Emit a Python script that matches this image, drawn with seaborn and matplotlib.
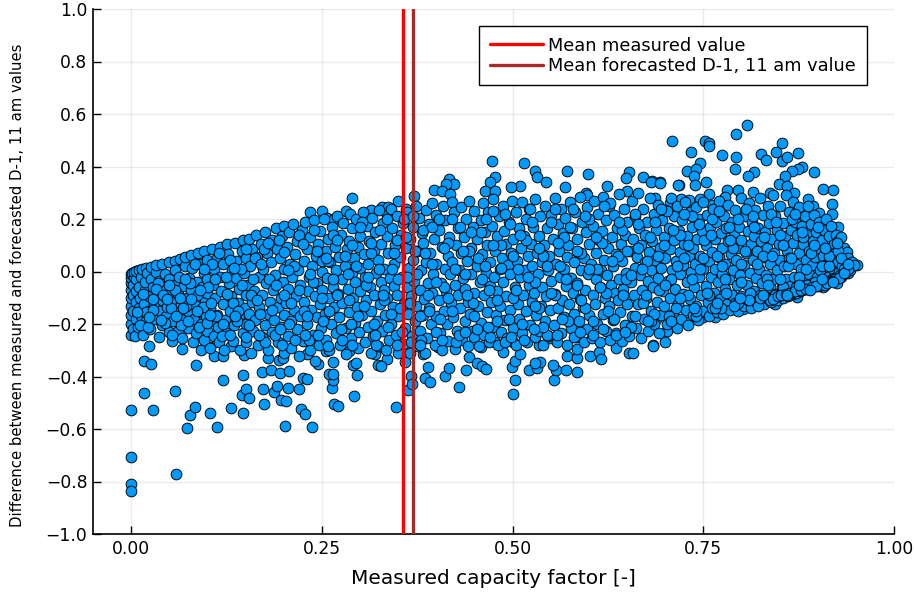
import pandas as pd
import matplotlib
matplotlib.use("Agg")
import matplotlib.pyplot as plt
import seaborn as sns

# (measured capacity factor, measured - forecasted) in slices of x
low_outliers = [(0,-.528),(.029,-.528),(.017,-.463),(.058,-.455),(0,-.706),(0,-.81),(0,-.835),(.059,-.771),(.073,-.596),(.113,-.592),
    (.077,-.546),(.084,-.516),(.104,-.539),(.131,-.52),(.147,-.539),(.121,-.413),(.147,-.394),(.145,-.47),(.15,-.448),(.155,-.482),
    (.172,-.383),(.183,-.375),(.195,-.387),(.207,-.379),(.225,-.406),(.231,-.41),(.173,-.448),(.187,-.459),(.191,-.436),(.206,-.444),
    (.22,-.448),(.197,-.49),(.203,-.493),(.174,-.505),(.202,-.589),(.237,-.592),(.223,-.524),(.228,-.543),(.263,-.444),(.265,-.413),
    (.26,-.39),(.265,-.39),(.266,-.505),(.271,-.512),(.292,-.474),(.296,-.394),(.291,-.356),(.295,-.349),(.347,-.516),(.363,-.451),
    (.367,-.398),(.368,-.429),(.385,-.406),(.389,-.364),(.324,-.356),(.32,-.314),(.335,-.333),(.265,-.345),(.245,-.352),(.241,-.341),
    (.231,-.314),(.255,-.303),(.286,-.303),(.085,-.356),(.017,-.341),(.026,-.352),(.024,-.284),(.067,-.295),(.092,-.299),(.109,-.322),
    (.121,-.322),(.148,-.318),(.18,-.33),(.194,-.337),(.199,-.33),(.131,-.284),(.104,-.288),(.392,-.421),(.412,-.398),(.417,-.368),
    (.43,-.44),(.439,-.375),(.443,-.326),(.453,-.349),(.46,-.36),(.465,-.371),(.501,-.467),(.503,-.413),(.499,-.364),(.503,-.341),
    (.51,-.314),(.488,-.307),(.554,-.413),(.557,-.375),(.57,-.375),(.585,-.383),(.553,-.356),(.522,-.375),(.532,-.368),(.536,-.345),
    (.53,-.349),(.571,-.322),(.585,-.33),(.585,-.295),(.602,-.322),(.613,-.307),(.616,-.333),(.653,-.31),(.658,-.31),(.684,-.28),
    (.7,-.268),(.636,-.291),(.535,-.28),(.549,-.253),(.501,-.268),(.477,-.268),(.459,-.288),(.402,-.288),(.383,-.314),(.359,-.345),
    (.328,-.36),(.684,-.284),(.703,-.227),(.688,-.181),(.73,-.192),(.75,-.173),(.765,-.173),(.785,-.143),(.802,-.143),(.844,-.124),
    (.873,-.097),(.907,-.059),(.925,-.044),(.94,-.006),(.951,.025),(.942,.006)]
high_outliers = [(.709,.497),(.807,.558),(.793,.524),(.752,.497),(.757,.49),(.757,.478),(.734,.455),(.775,.444),(.793,.436),(.746,.413),
    (.826,.448),(.845,.455),(.853,.49),(.832,.425),(.853,.42),(.86,.436),(.874,.45),(.879,.4),(.874,.39),(.866,.383),
    (.895,.379),(.857,.364),(.817,.379),(.808,.364),(.792,.39),(.729,.383),(.74,.39),(.738,.364),(.753,.341),(.739,.33),
    (.718,.33),(.693,.341),(.683,.345),(.907,.314),(.92,.31),(.919,.257),(.919,.219),(.927,.17),(.849,.333),(.86,.326),
    (.837,.299),(.815,.302),(.796,.31),(.781,.31),(.757,.295),(.746,.276),(.731,.272),(.721,.276),(.706,.261),(.687,.28),
    (.761,.253),(.778,.284),(.869,.299),(.887,.276),(.894,.25),(.873,.246),(.902,.223),(.473,.421),(.515,.413),(.53,.383),
    (.532,.36),(.544,.341),(.571,.383),(.599,.371),(.653,.379),(.649,.356),(.671,.36),(.682,.341),(.693,.337),(.624,.326),
    (.569,.322),(.51,.326),(.498,.322),(.477,.36),(.47,.341),(.417,.352),(.423,.333),(.413,.333),(.397,.31),(.407,.307),
    (.418,.295),(.464,.307),(.477,.307),(.371,.288),(.65,.307),(.596,.299),(.598,.291),(.717,.33),(.29,.28),(.235,.227),
    (.25,.23),(.257,.204),(.266,.2),(.282,.23),(.315,.234),(.329,.246),(.337,.246),(.335,.215),(.35,.27),(.36,.24)]

slice_00 = [(0,-.24),(0,-.2),(0,-.165),(0,-.13),(0,-.1),(0,-.07),(0,-.045),(0,-.025),(0,-.01),(.001,-.005),(.002,-.22),(.002,-.15),(.003,-.09),
    (.003,-.05),(.004,-.02),(.004,0),(.005,-.245),(.006,-.18),(.006,-.115),(.006,-.075),(.007,-.03),(.007,.002),(.009,-.21),(.01,-.14),(.01,-.06),
    (.01,.005),(.012,-.1),(.013,-.17),(.013,-.02),(.014,.01),(.016,-.24),(.017,-.125),(.018,-.07),(.018,-.04),(.019,.012),(.02,-.19),(.021,-.005),
    (.023,-.15),(.024,-.095),(.025,-.22),(.026,-.03),(.026,.018),(.028,-.06),(.03,-.125),(.031,-.18),(.032,0),(.033,.024),(.034,-.085),(.036,-.25),
    (.037,-.035),(.038,-.15),(.04,-.205),(.04,-.11),(.041,.03),(.043,-.06),(.044,-.01),(.046,-.17),(.047,-.135),(.048,-.085),(.049,.036),(.049,-.03),(.05,-.23)]
slice_05 = [(.054,-.265),(.055,-.19),(.055,-.115),(.056,-.05),(.057,.04),(.058,.005),(.06,-.155),(.061,-.225),(.062,-.085),(.063,-.02),(.064,.048),
    (.066,-.125),(.067,-.255),(.068,-.185),(.069,-.055),(.07,.02),(.071,.055),(.073,-.1),(.074,-.215),(.075,-.15),(.076,-.025),(.078,-.07),(.079,.062),
    (.08,.012),(.081,-.27),(.082,-.18),(.083,-.125),(.085,-.235),(.086,-.04),(.087,.07),(.088,-.09),(.09,.03),(.091,-.155),(.092,-.2),(.093,-.06),
    (.095,-.26),(.095,-.005),(.096,.078),(.097,-.115),(.098,-.17),(.099,.045),(.1,-.03),(.1,-.225),(.1,-.08)]
slice_10 = [(.103,-.29),(.104,-.14),(.105,-.19),(.106,.085),(.107,-.05),(.108,.01),(.109,-.245),(.11,-.1),(.112,.05),(.113,-.165),(.114,-.21),(.115,-.27),
    (.116,.095),(.117,-.02),(.118,-.075),(.12,-.125),(.121,.03),(.122,-.3),(.123,-.185),(.125,-.235),(.126,.105),(.127,.065),(.128,-.045),(.13,-.15),
    (.131,-.095),(.132,.005),(.133,-.265),(.135,-.205),(.136,.11),(.137,.04),(.138,-.025),(.14,-.12),(.141,-.065),(.142,-.17),(.143,-.3),(.145,.08),
    (.146,-.235),(.147,.12),(.148,-.005),(.149,-.14),(.15,.05),(.15,-.2),(.15,-.09),(.15,-.27)]
slice_15 = [(.153,-.05),(.154,.125),(.155,-.16),(.156,.02),(.157,-.31),(.158,-.115),(.159,.085),(.16,-.225),(.161,-.075),(.163,-.185),(.164,.14),(.165,.055),
    (.166,-.28),(.167,-.02),(.168,-.135),(.17,.105),(.171,-.25),(.172,-.09),(.173,.01),(.175,-.205),(.176,.15),(.177,-.045),(.178,.07),(.179,-.16),
    (.18,-.3),(.182,-.115),(.183,.035),(.184,.12),(.185,-.23),(.186,-.07),(.187,-.185),(.189,-.015),(.19,.165),(.191,.085),(.192,-.135),(.193,-.27),
    (.195,.05),(.196,-.1),(.197,-.21),(.198,.135),(.199,-.04),(.2,.01),(.2,-.165),(.2,.175),(.2,-.31)]
slice_20 = [(.203,-.12),(.204,.095),(.205,-.245),(.206,-.065),(.207,.15),(.208,.03),(.209,-.19),(.21,-.29),(.211,-.02),(.212,.18),(.214,-.145),(.215,.065),
    (.216,-.095),(.217,-.22),(.218,.115),(.219,.005),(.22,-.32),(.221,-.05),(.222,-.17),(.224,.16),(.225,-.265),(.226,.04),(.227,-.115),(.228,.19),
    (.23,-.2),(.231,.085),(.232,-.075),(.233,-.02),(.234,-.3),(.235,.13),(.236,-.145),(.237,.02),(.238,-.24),(.24,.195),(.241,-.095),(.242,.06),
    (.243,-.175),(.244,-.045),(.245,.105),(.246,-.28),(.247,.155),(.248,-.125),(.249,-.215),(.25,0),(.25,.04),(.25,-.07)]
slice_25 = [(.253,.2),(.254,-.16),(.255,.08),(.256,-.26),(.257,-.025),(.258,.125),(.259,-.1),(.26,-.3),(.261,.035),(.262,-.2),(.263,.17),(.264,-.06),
    (.266,-.135),(.267,.095),(.268,.005),(.269,-.235),(.27,.21),(.271,-.085),(.272,.055),(.273,-.175),(.274,-.28),(.275,.14),(.276,-.03),(.277,-.12),
    (.278,.185),(.28,.02),(.281,-.215),(.282,-.315),(.283,.085),(.284,-.065),(.285,-.155),(.286,.115),(.287,.22),(.288,-.255),(.289,-.005),(.29,.165),
    (.291,-.1),(.292,.05),(.293,-.195),(.294,-.04),(.295,.2),(.296,-.135),(.297,-.29),(.298,.095),(.299,-.23),(.3,.135),(.3,-.075),(.3,.015)]
slice_30 = [(.303,-.165),(.304,.225),(.305,.065),(.306,-.02),(.307,-.27),(.308,-.11),(.309,.175),(.31,-.21),(.311,.03),(.312,.115),(.313,-.06),(.314,-.31),
    (.315,-.15),(.316,.205),(.317,-.245),(.318,.08),(.319,-.09),(.32,.15),(.321,-.005),(.322,-.19),(.323,-.285),(.324,.045),(.325,.235),(.326,-.125),
    (.327,-.04),(.328,.105),(.329,-.225),(.33,.185),(.331,-.07),(.332,.01),(.333,-.165),(.334,-.3),(.335,.135),(.336,-.1),(.337,.07),(.338,-.26),
    (.339,-.025),(.34,.24),(.341,-.2),(.342,.165),(.343,-.135),(.344,.03),(.345,-.055),(.346,.1),(.347,-.24),(.348,.21),(.349,-.09),(.35,-.17),(.35,-.31)]
slice_35 = [(.353,.055),(.354,.14),(.355,-.02),(.356,-.275),(.357,.185),(.358,-.125),(.359,-.215),(.36,.09),(.361,-.06),(.362,.225),(.363,-.16),(.364,.015),
    (.365,-.31),(.366,.125),(.367,-.095),(.368,-.245),(.369,.17),(.37,.045),(.371,-.035),(.372,-.19),(.373,.25),(.374,-.13),(.375,.08),(.376,-.285),
    (.377,.205),(.378,-.07),(.379,-.225),(.38,.005),(.381,.145),(.382,-.165),(.383,.11),(.384,-.105),(.385,-.31),(.386,.035),(.387,.235),(.388,-.255),
    (.389,-.045),(.39,.18),(.391,-.14),(.392,.07),(.393,-.2),(.394,-.08),(.395,.26),(.396,-.01),(.397,.125),(.398,-.28),(.399,-.17),(.4,.215),(.4,.03)]
slice_40 = [(.403,-.11),(.404,.16),(.405,-.235),(.406,-.045),(.407,.095),(.408,-.3),(.409,.25),(.41,-.15),(.411,.01),(.412,.195),(.413,-.075),(.414,-.2),
    (.415,.06),(.416,-.265),(.417,.13),(.418,-.01),(.419,-.12),(.42,.265),(.421,.035),(.422,-.175),(.423,.225),(.424,-.05),(.425,-.295),(.426,.1),
    (.427,-.225),(.428,.165),(.429,-.09),(.43,.005),(.431,-.14),(.432,.245),(.433,.07),(.434,-.26),(.435,-.025),(.436,.13),(.437,-.19),(.438,-.065),
    (.439,.2),(.44,.04),(.441,-.285),(.442,-.115),(.443,.27),(.444,-.16),(.445,.09),(.446,-.01),(.447,-.225),(.448,.17),(.449,-.08),(.45,.23),(.45,-.25)]
slice_45 = [(.453,.02),(.454,.125),(.455,-.13),(.456,-.285),(.457,-.04),(.458,.195),(.459,-.195),(.46,.065),(.461,.26),(.462,-.09),(.463,-.24),(.464,.15),
    (.465,-.005),(.466,-.155),(.467,.1),(.468,.225),(.469,-.27),(.47,-.055),(.471,.035),(.472,-.115),(.473,.175),(.474,-.21),(.475,.275),(.476,-.02),
    (.477,.08),(.478,-.165),(.479,.135),(.48,-.075),(.481,-.28),(.482,.21),(.483,.01),(.484,-.13),(.485,-.23),(.486,.05),(.487,.25),(.488,-.04),
    (.489,.155),(.49,-.185),(.491,.105),(.492,-.095),(.493,-.255),(.494,.025),(.495,.19),(.496,-.145),(.497,-.01),(.498,.07),(.499,.27),(.5,-.215),(.5,.125)]
slice_50 = [(.503,-.06),(.504,.225),(.505,-.28),(.506,.04),(.507,-.125),(.508,.165),(.509,-.18),(.51,-.02),(.511,.09),(.512,.265),(.513,-.235),(.514,-.09),
    (.515,.135),(.516,.005),(.517,.2),(.518,-.15),(.519,-.27),(.52,.06),(.521,-.05),(.522,.24),(.523,-.205),(.524,.105),(.525,-.115),(.526,.02),
    (.527,.17),(.528,-.08),(.529,-.25),(.53,.275),(.531,-.165),(.532,.07),(.533,-.01),(.534,.135),(.535,-.225),(.536,.21),(.537,-.13),(.538,.035),
    (.539,-.06),(.54,-.28),(.541,.1),(.542,.25),(.543,-.19),(.544,-.095),(.545,.165),(.546,.005),(.547,-.245),(.548,.06),(.549,-.145),(.55,.215),(.55,-.035)]
slice_55 = [(.553,.125),(.554,-.205),(.555,.28),(.556,-.085),(.557,.03),(.558,-.27),(.559,.18),(.56,-.14),(.561,.08),(.562,-.02),(.563,.24),(.564,-.235),
    (.565,-.11),(.566,.145),(.567,.01),(.568,-.175),(.569,.205),(.57,-.055),(.571,.055),(.572,-.28),(.573,.1),(.574,-.125),(.575,.265),(.576,-.215),
    (.577,-.025),(.578,.165),(.579,-.08),(.58,.035),(.581,-.16),(.582,.225),(.583,-.25),(.584,.125),(.585,-.045),(.586,.075),(.587,-.19),(.588,.285),
    (.589,-.105),(.59,.005),(.591,.19),(.592,-.135),(.593,-.27),(.594,.05),(.595,-.07),(.596,.15),(.597,-.22),(.598,.245),(.599,-.01),(.6,.105),(.6,-.165)]
slice_60 = [(.603,.03),(.604,-.255),(.605,.175),(.606,-.09),(.607,.27),(.608,-.125),(.609,.07),(.61,-.03),(.611,-.2),(.612,.22),(.613,.12),(.614,-.06),
    (.615,-.27),(.616,.005),(.617,.155),(.618,-.16),(.619,.285),(.62,.045),(.621,-.1),(.622,-.225),(.623,.195),(.624,-.015),(.625,.09),(.626,-.13),
    (.627,.25),(.628,-.26),(.629,-.05),(.63,.13),(.631,-.185),(.632,.02),(.633,.215),(.634,-.08),(.635,-.235),(.636,.065),(.637,.165),(.638,-.11),
    (.639,-.03),(.64,.295),(.641,-.155),(.642,.105),(.643,-.265),(.644,.04),(.645,-.065),(.646,.24),(.647,-.205),(.648,.14),(.649,-.005),(.65,-.125),(.65,.19)]
slice_65 = [(.653,-.245),(.654,.08),(.655,-.04),(.656,.27),(.657,-.17),(.658,.125),(.659,-.09),(.66,.015),(.661,.21),(.662,-.215),(.663,.055),(.664,.3),
    (.665,-.125),(.666,.165),(.667,-.015),(.668,-.255),(.669,.1),(.67,-.07),(.671,.24),(.672,-.18),(.673,.035),(.674,.14),(.675,-.1),(.676,.19),
    (.677,-.225),(.678,-.035),(.679,.075),(.68,.28),(.681,-.15),(.682,.005),(.683,.115),(.684,-.06),(.685,.22),(.686,-.2),(.687,.045),(.688,.16),
    (.689,-.115),(.69,-.025),(.691,.255),(.692,-.235),(.693,.09),(.694,-.165),(.695,.015),(.696,.195),(.697,-.075),(.698,.13),(.699,-.13),(.7,.05),(.7,.235)]
slice_70 = [(.703,-.2),(.704,-.035),(.705,.165),(.706,.085),(.707,-.1),(.708,.28),(.709,.005),(.71,-.16),(.711,.21),(.712,.12),(.713,-.065),(.714,.04),
    (.715,-.215),(.716,.25),(.717,-.125),(.718,.155),(.719,-.01),(.72,.075),(.721,-.18),(.722,.195),(.723,-.085),(.724,.025),(.725,.105),(.726,.265),
    (.727,-.145),(.728,-.04),(.729,.135),(.73,-.205),(.731,.06),(.732,.225),(.733,-.105),(.734,0),(.735,.17),(.736,-.165),(.737,.09),(.738,-.06),
    (.739,.03),(.74,.245),(.741,-.13),(.742,.125),(.743,-.185),(.744,.2),(.745,-.02),(.746,.06),(.747,-.09),(.748,.155),(.749,-.15),(.75,.265),(.75,.01)]
slice_75 = [(.753,.1),(.754,-.055),(.755,.215),(.756,-.115),(.757,.04),(.758,-.17),(.759,.17),(.76,-.02),(.761,.075),(.762,-.14),(.763,.24),(.764,-.08),
    (.765,.125),(.766,.01),(.767,.19),(.768,-.155),(.769,-.04),(.77,.055),(.771,.27),(.772,-.105),(.773,.145),(.774,-.01),(.775,.09),(.776,-.16),
    (.777,.21),(.778,-.065),(.779,.03),(.78,.165),(.781,-.125),(.782,.115),(.783,.255),(.784,-.03),(.785,-.145),(.786,.065),(.787,.19),(.788,-.09),
    (.789,.005),(.79,.14),(.791,-.12),(.792,.235),(.793,.045),(.794,-.05),(.795,.09),(.796,-.15),(.797,.17),(.798,-.015),(.799,.28),(.8,-.095),(.8,.12)]
slice_80 = [(.803,.025),(.804,-.13),(.805,.21),(.806,.07),(.807,-.05),(.808,.155),(.809,-.11),(.81,.26),(.811,-.005),(.812,.105),(.813,-.14),(.814,.19),
    (.815,.045),(.816,-.075),(.817,.135),(.818,.235),(.819,-.025),(.82,-.12),(.821,.08),(.822,.165),(.823,.01),(.824,-.09),(.825,.28),(.826,.115),
    (.827,-.045),(.828,.215),(.829,-.125),(.83,.055),(.831,.15),(.832,-.015),(.833,-.1),(.834,.09),(.835,.25),(.836,.185),(.837,-.06),(.838,.03),
    (.839,-.115),(.84,.125),(.841,.29),(.842,-.03),(.843,.07),(.844,.21),(.845,-.085),(.846,.16),(.847,.005),(.848,-.11),(.849,.105),(.85,.045),(.85,.25)]
slice_85 = [(.853,-.06),(.854,.185),(.855,-.1),(.856,.02),(.857,.135),(.858,.29),(.859,-.03),(.86,.08),(.861,-.095),(.862,.225),(.863,.05),(.864,-.055),
    (.865,.16),(.866,-.085),(.867,.265),(.868,.11),(.869,-.02),(.87,.19),(.871,-.08),(.872,.03),(.873,.14),(.874,-.05),(.875,.245),(.876,.07),
    (.877,-.075),(.878,.01),(.879,.175),(.88,-.07),(.881,.105),(.882,-.035),(.883,.21),(.884,.045),(.885,-.065),(.886,.14),(.887,.25),(.888,-.01),
    (.889,.08),(.89,-.06),(.891,.18),(.892,.025),(.893,-.045),(.894,.115),(.895,.215),(.896,-.055),(.897,.055),(.898,.15),(.899,-.02),(.9,-.05),(.9,.09)]
slice_90 = [(.902,.19),(.903,.005),(.904,-.05),(.905,.12),(.906,-.035),(.907,.06),(.908,.16),(.909,-.045),(.91,.025),(.911,.2),(.912,-.04),(.913,.09),
    (.914,-.02),(.915,.135),(.916,-.035),(.917,.045),(.918,.175),(.919,-.03),(.92,.01),(.921,.105),(.922,-.025),(.923,.07),(.924,.14),(.925,-.02),
    (.926,.035),(.927,.115),(.928,0),(.929,-.015),(.93,.08),(.931,.13),(.932,.02),(.933,-.01),(.934,.055),(.935,.09),(.936,.005),(.937,.035),
    (.938,.075),(.939,.015),(.94,.05),(.941,.03),(.943,.02),(.945,.035),(.948,.025)]

# second pass over the parts of the cloud that are packed solid
packed_a = [(.012,-.205),(.019,-.155),(.028,-.105),(.035,-.045),(.045,-.195),(.052,-.14),(.058,-.07),(.065,-.205),(.072,-.13),(.077,-.045),(.084,.03),(.089,-.21),
    (.094,-.135),(.101,-.06),(.106,.03),(.111,-.17),(.119,-.245),(.124,-.02),(.129,.045),(.134,-.12),(.139,-.19),(.144,.01),(.151,-.25),(.157,-.09),(.162,.05),
    (.169,-.16),(.174,.085),(.181,-.03),(.188,-.24),(.194,.12),(.201,-.09),(.207,-.2),(.213,.02),(.22,.14),(.226,-.15),(.233,-.26),(.239,-.04),(.244,.08),
    (.252,-.19),(.258,.04),(.265,.14),(.27,-.09),(.277,-.26),(.284,-.01),(.29,.1),(.297,-.17),(.302,.19),(.308,-.05),(.314,.07),(.321,-.28)]
packed_b = [(.326,.16),(.331,-.11),(.337,-.21),(.342,.01),(.348,.12),(.353,-.14),(.358,.2),(.362,-.02),(.367,-.27),(.372,.08),(.378,-.17),(.383,.16),(.389,-.09),
    (.394,.03),(.399,-.23),(.404,.2),(.41,-.06),(.416,.11),(.421,-.15),(.426,-.27),(.431,.17),(.437,-.01),(.443,.08),(.448,-.12),(.453,-.22),(.458,.15),
    (.464,.02),(.469,-.07),(.474,.23),(.479,-.19),(.485,.1),(.49,-.27),(.496,.18),(.501,-.1),(.507,.01),(.512,-.2),(.518,.12),(.523,.24),(.529,-.04),(.534,-.14),
    (.54,.06),(.545,-.24),(.551,.19),(.556,-.09),(.562,.02),(.568,.13),(.573,-.19),(.579,.24),(.584,-.05),(.59,.07)]
packed_c = [(.595,-.14),(.6,.2),(.606,-.24),(.611,.01),(.617,.11),(.622,-.08),(.628,.26),(.633,-.18),(.638,.06),(.644,.16),(.649,-.03),(.655,-.21),(.66,.22),
    (.665,.09),(.671,-.12),(.676,.04),(.682,-.19),(.687,.19),(.692,-.07),(.698,.1),(.703,.23),(.708,-.03),(.714,-.14),(.719,.14),(.725,.05),(.73,-.09),(.735,.21),
    (.741,-.17),(.746,.01),(.751,.12),(.757,-.09),(.762,.2),(.768,.06),(.773,-.14),(.778,-.03),(.784,.17),(.789,.09),(.795,-.12),(.8,.03),(.806,.24),(.811,-.08),
    (.817,.17),(.822,-.13),(.828,.06),(.833,-.03),(.839,.22),(.844,-.09),(.85,.14),(.855,-.06),(.861,.02)]
packed_d = [(.866,.2),(.871,-.06),(.876,-.02),(.881,.13),(.886,-.05),(.891,.07),(.896,-.04),(.901,-.055),(.906,.02),(.91,-.05),(.915,.06),(.918,-.035),
    (.922,-.03),(.926,.08),(.93,-.02),(.934,.01),(.838,-.11),(.842,-.105),(.848,-.095),(.852,-.09),(.858,-.085),(.864,-.08),(.87,-.075),(.878,-.07),(.884,-.065),
    (.892,-.06),(.898,-.055),(.912,-.045),(.92,-.035),(.928,-.025),(.936,-.005),(.94,.01)]
packed_e = [(.008,-.155),(.015,-.085),(.022,-.21),(.029,-.145),(.033,-.065),(.039,-.185),(.042,-.09),(.05,-.05),(.053,-.24),(.059,-.17),(.064,-.1),(.07,-.03),(.075,-.19),
    (.079,-.105),(.086,-.15),(.09,-.07),(.095,.01),(.1,-.195),(.105,-.12),(.11,-.03),(.115,.07),(.12,-.2),(.125,-.085),(.13,-.24),(.135,.015),(.14,-.15),(.145,-.05),
    (.15,.085),(.155,-.205),(.16,-.03),(.165,-.11),(.17,.03),(.175,-.27),(.18,.11),(.185,-.145),(.19,-.05),(.195,-.22),(.2,.075),(.205,.005),(.21,-.12),(.215,-.26),
    (.22,-.07),(.225,.105),(.23,-.17),(.235,-.01),(.24,.16),(.245,-.24),(.25,-.1),(.255,.05),(.26,-.15),(.265,-.03),(.27,.12),(.275,-.22),(.28,.06),(.285,-.11),
    (.29,-.28),(.295,.02),(.3,.17),(.305,-.13),(.31,-.02),(.315,.11),(.32,-.24),(.325,.01),(.33,-.09),(.335,.2),(.34,-.16),(.345,.07),(.35,-.03),(.355,-.23),(.36,.13),
    (.365,-.12),(.37,.21),(.375,-.01),(.38,-.26),(.385,.07),(.39,-.15),(.395,.17),(.4,-.04),(.405,-.18),(.41,.09),(.415,-.1),(.42,.2),(.425,.01),(.43,-.24),(.435,.08)]
packed_f = [(.44,-.09),(.445,.15),(.45,-.17),(.455,.05),(.46,-.03),(.465,.2),(.47,-.25),(.475,.1),(.48,-.11),(.485,.015),(.49,.22),(.495,-.18),(.5,.06),(.505,-.07),(.51,.14),
    (.515,-.26),(.52,-.02),(.525,.19),(.53,-.13),(.535,.09),(.54,-.21),(.545,.02),(.55,-.08),(.555,.24),(.56,.11),(.565,-.18),(.57,-.03),(.575,.17),(.58,-.25),(.585,.08),
    (.59,-.11),(.595,.21),(.6,.01),(.605,-.19),(.61,.13),(.615,-.06),(.62,.25),(.625,-.15),(.63,.04),(.635,-.24),(.64,.19),(.645,-.09),(.65,.08),(.655,-.015),(.66,-.17),
    (.665,.18),(.67,.01),(.675,-.09),(.68,.13),(.685,-.16),(.69,.06),(.695,.24),(.7,-.05),(.705,-.17),(.71,.16),(.715,.02),(.72,-.1),(.725,.22),(.73,.1),(.735,-.03),
    (.74,-.15),(.745,.18),(.75,.05),(.755,-.08),(.76,.14),(.765,-.14),(.77,.23),(.775,.02),(.78,-.08),(.785,.12),(.79,-.13),(.795,.2),(.8,-.04),(.805,.08),(.81,-.11),
    (.815,.21),(.82,.03),(.825,-.1),(.83,.13),(.835,-.05)]
packed_g = [(.84,.06),(.845,.19),(.85,-.03),(.855,.1),(.86,-.09),(.865,.05),(.87,.22),(.875,-.05),(.88,.15),(.885,.01),(.89,-.07),(.895,.1),(.9,.17),(.905,-.03),(.91,.09),
    (.915,.02),(.92,-.04),(.925,.11),(.93,.05),(.935,-.005),(.94,.03),(.024,-.175),(.047,-.105),(.068,-.14),(.103,-.165),(.136,-.17),(.168,-.24),(.198,-.28),(.228,-.24),
    (.258,-.285),(.288,-.2),(.318,-.2),(.348,-.28),(.378,-.28),(.408,-.26),(.438,-.23),(.468,-.21),(.498,-.25),(.528,-.22),(.558,-.24),(.588,-.23),(.618,-.22),(.648,-.23),
    (.678,-.19),(.708,-.19),(.738,-.14),(.768,-.12),(.798,-.1),(.828,-.09)]

slices = [low_outliers, high_outliers, slice_00, slice_05, slice_10, slice_15, slice_20, slice_25, slice_30, slice_35,
          slice_40, slice_45, slice_50, slice_55, slice_60, slice_65, slice_70, slice_75, slice_80, slice_85, slice_90,
          packed_a, packed_b, packed_c, packed_d, packed_e, packed_f, packed_g]
x_ticks = [0, 0.25, 0.5, 0.75, 1.0]
x_labels = ["0.00", "0.25", "0.50", "0.75", "1.00"]
y_ticks = [-1.0, -0.8, -0.6, -0.4, -0.2, 0.0, 0.2, 0.4, 0.6, 0.8, 1.0]
mean_measured = 0.356
mean_forecast = 0.369

df = pd.DataFrame([p for s in slices for p in s], columns=["measured", "difference"])

sns.set_theme(style="white")
fig, ax = plt.subplots(figsize=(9.14, 5.93), dpi=100)
fig.subplots_adjust(left=93 / 914, right=894 / 914, top=1 - 9 / 593, bottom=1 - 534 / 593)

sns.scatterplot(data=df, x="measured", y="difference", ax=ax, s=60, color="#009AFA",
                edgecolor="black", linewidth=0.65, zorder=3, clip_on=False)
ax.axvline(mean_measured, color="red", lw=2.4, zorder=4, label="Mean measured value")
ax.axvline(mean_forecast, color="brown", lw=2.4, zorder=4, label="Mean forecasted D-1, 11 am value")

ax.set_xlim(-0.05, 1.0)
ax.set_ylim(-1, 1)
ax.set_xticks(x_ticks, x_labels)
ax.set_yticks(y_ticks, [f"{v:.1f}".replace("-", "\u2212") for v in y_ticks])
ax.grid(True, color="black", alpha=0.08, lw=1)
ax.set_axisbelow(True)
ax.tick_params(direction="in", length=6, width=1, color="black", labelsize=12.3, labelcolor="black", pad=4, bottom=True, left=True)
for side in ["top", "right"]:
    ax.spines[side].set_visible(False)
for side in ["left", "bottom"]:
    ax.spines[side].set_color("black")
    ax.spines[side].set_linewidth(1.2)
ax.set_xlabel("Measured capacity factor [-]", fontsize=14.5, color="black", labelpad=8)
ax.set_ylabel("Difference between measured and forecasted D-1, 11 am values", fontsize=10.7, color="black")
ax.yaxis.set_label_coords(-0.085, 0.474)

leg = ax.legend(loc="upper left", bbox_to_anchor=(386 / 801, 1 - 17 / 525), borderaxespad=0, fontsize=12.8, frameon=True,
                fancybox=False, framealpha=1, edgecolor="black", labelcolor="black", labelspacing=0.12, handlelength=3.0,
                handletextpad=0.3, borderpad=0.6)
leg.get_frame().set_linewidth(1.0)

plt.savefig("out.png", dpi=100)
